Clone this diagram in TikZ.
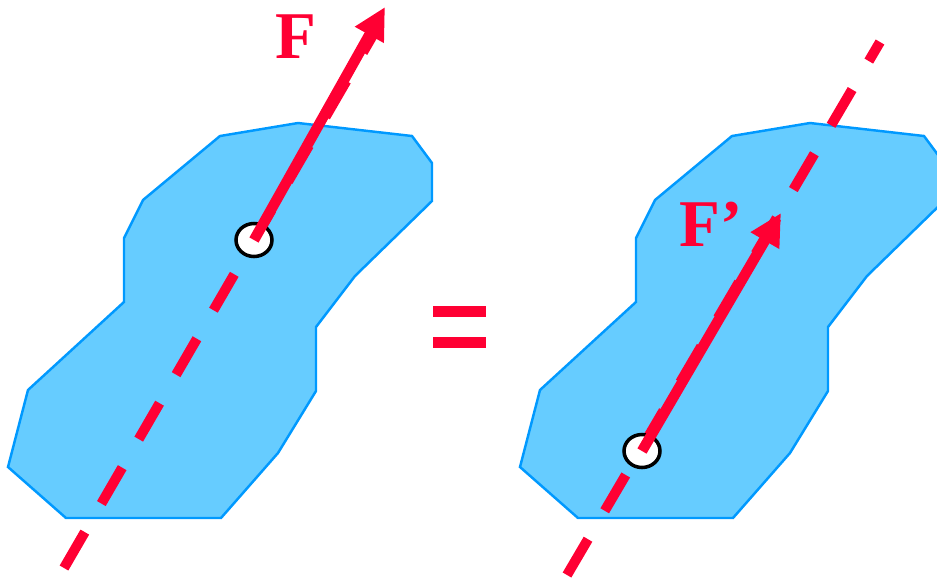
\documentclass[tikz,border=0pt]{standalone}
\usepackage{fontspec}
\setmainfont{Liberation Serif}
\usepackage{xcolor}
\usepackage{tikz}
\usetikzlibrary{arrows.meta, shapes.geometric}

\definecolor{forcered}{RGB}{255,0,51}
\definecolor{bodyfill}{RGB}{102,204,255}
\definecolor{bodyline}{RGB}{0,153,255}

\tikzset{
  body/.style={fill=bodyfill, draw=bodyline, line width=0.7pt},
  actionline/.style={draw=forcered, line width=1mm, dash pattern=on 4.15mm off 3.3mm},
  force/.style={draw=forcered, line width=1.05mm, -{Triangle[length=3.2mm,width=3.1mm]}},
  pivot/.style={ellipse, draw=black, fill=white, line width=1pt,
    minimum width=3.6mm, minimum height=3.3mm, inner sep=0pt},
  forcelabel/.style={text=forcered, inner sep=0pt,
    font=\fontsize{19}{19}\selectfont\bfseries}
}

\begin{document}
\begin{tikzpicture}[x=0.1mm, y=-0.1mm]
    \useasboundingbox (0,0) rectangle (937,579);
    % 1. The two bodies (same outline, shifted)
    \foreach \dx in {0,512}
      \draw[body, shift={(\dx,0)}] (220,136) -- (298,123) -- (412,136) -- (432,163)
        -- (432,201) -- (355,276) -- (316,327) -- (316,391) -- (278,453) -- (221,518)
        -- (66,518) -- (8,467) -- (28,390) -- (124,302) -- (124,238) -- (143,200) -- cycle;

    % 2. Lines of action
    \coordinate (bot1) at (64,568);
    \coordinate (top1) at (373,35);
    \coordinate (bot2) at (567,575);
    \coordinate (top2) at (880,42);
    \draw[actionline] (bot1) -- (top1);
    \draw[actionline] (bot2) -- (top2);

    % 3. Points of application and forces
    \node[pivot] (piv1) at (254,240) {};
    \node[pivot] (piv2) at (642,451) {};
    \coordinate (tip1) at (385,7);
    \coordinate (tip2) at (781,213);
    \draw[force] (piv1.center) -- (tip1);
    \draw[force] (piv2.center) -- (tip2);
    \node[forcelabel] (lblF) at (296,37) {F};
    \node[forcelabel] (lblFp) at (711,224) {F’};

    % 4. Equals sign
    \fill[forcered] (433,306) rectangle (486,317);
    \fill[forcered] (433,337) rectangle (486,348);
\end{tikzpicture}
\end{document}
